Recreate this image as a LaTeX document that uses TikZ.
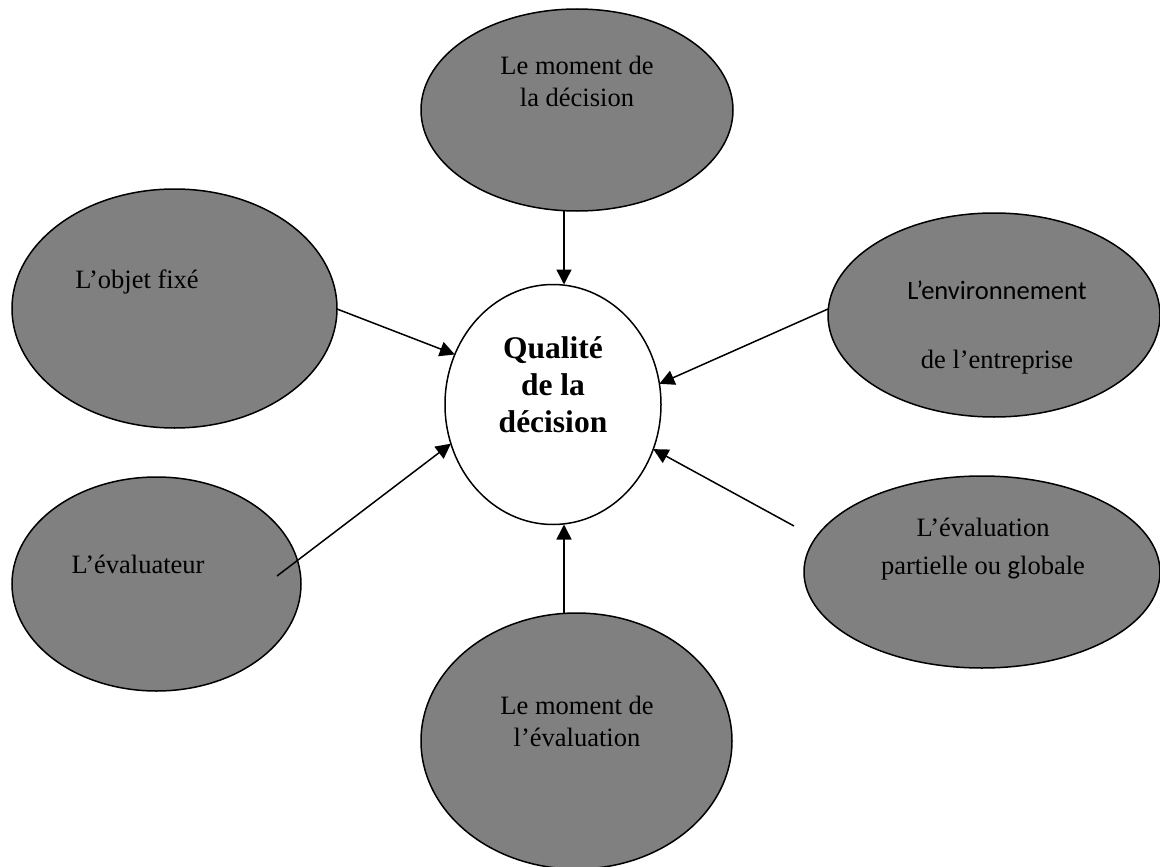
\documentclass[tikz,border=0pt]{standalone}
\usepackage{fontspec}
\setmainfont{Liberation Serif}
\newfontfamily\calibri{Carlito}
\usetikzlibrary{shapes.geometric,arrows.meta}
\begin{document}
\begin{tikzpicture}[x=1pt,y=-1pt,
  bubble/.style={ellipse,draw=black,line width=1.5pt,fill=gray50,inner sep=0pt,outer sep=0pt},
  core/.style={ellipse,draw=black,line width=1.5pt,fill=white,inner sep=0pt,outer sep=0pt},
  lbl/.style={inner sep=0pt,align=center,font=\fontsize{26.5}{32}\selectfont},
  arr/.style={line width=1.5pt,-{Triangle[length=15pt,width=15pt]}}]
\definecolor{gray50}{HTML}{808080}
\useasboundingbox (0,0) rectangle (1160,867);
% ellipses
\node[bubble,minimum width=312pt,minimum height=202pt] (top) at (577,110) {};
\node[bubble,minimum width=325pt,minimum height=239pt] (lt) at (174.5,308.5) {};
\node[bubble,minimum width=332pt,minimum height=204pt] (rt) at (994,315) {};
\node[bubble,minimum width=289pt,minimum height=214pt] (lb) at (156.5,584) {};
\node[bubble,minimum width=356pt,minimum height=192pt] (rb) at (982,572) {};
\node[bubble,minimum width=311pt,minimum height=256pt] (bot) at (576.5,741) {};
\node[core,minimum width=216pt,minimum height=240pt] (q) at (553,404.5) {};
% texts
\node[lbl] (ttop) at (577,81) {Le moment de\\la décision};
\node[lbl] (tlt) at (137,282) {L’objet fixé};
\node[lbl,font=\fontsize{26.5}{32}\calibri] (trt1) at (997,290) {L’environnement};
\node[lbl] (trt2) at (997,362) {de l’entreprise};
\node[lbl] (tlb) at (138,564) {L’évaluateur};
\node[lbl,font=\fontsize{26.5}{38}\selectfont] (trb) at (983,549) {L’évaluation\\partielle ou {\calibri g}lobale};
\node[lbl] (tbot) at (577,721) {Le moment de\\l’évaluation};
\node[lbl,font=\fontsize{31.5}{37}\selectfont\bfseries] (tq) at (553,385) {Qualité\\de la\\décision};
% connector starts
\coordinate (s1) at (564,211);
\coordinate (s2) at (337,309);
\coordinate (s3) at (828,309);
\coordinate (s4) at (277,576);
\coordinate (s5) at (794,526);
\coordinate (s6) at (564,613);
% connectors
\draw[arr] (s1) -- (q.north -| s1);
\draw[arr] (s2) -- (q.153.9);
\draw[arr] (s3) -- (q.11.8);
\draw[arr] (s4) -- (q.201.5);
\draw[arr] (s5) -- (q.336.9);
\draw[arr] (s6) -- (q.south -| s6);
\end{tikzpicture}
\end{document}
